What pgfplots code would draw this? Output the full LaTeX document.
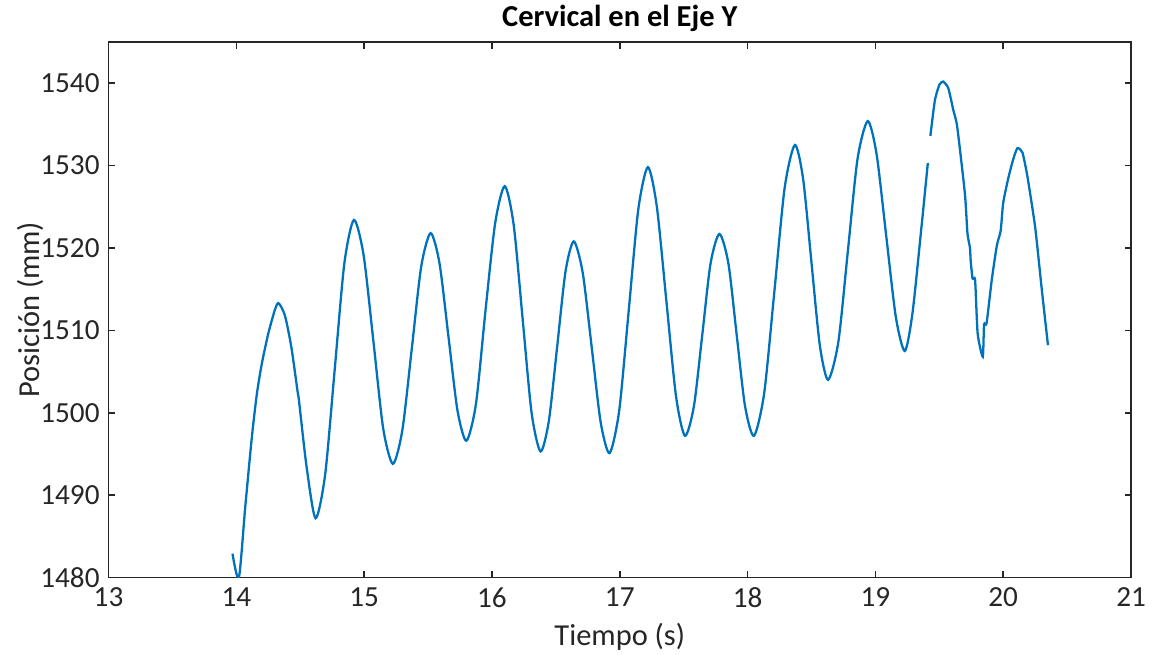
\documentclass[border=0pt]{standalone}
\usepackage{pgfplots}
\pgfplotsset{compat=1.18}
\usepackage{fontspec}
\setmainfont{Carlito}

\definecolor{matblue}{RGB}{0,114,189}
\definecolor{axgray}{RGB}{38,38,38}

\begin{document}
\begin{tikzpicture}
\begin{axis}[
  name=ax,
  scale only axis,
  width=14.164cm, height=7.418cm,
  xmin=13, xmax=21, ymin=1480, ymax=1545,
  xtick={13,...,21},
  ytick={1480,1490,...,1540},
  tick align=inside,
  major tick length=0.09cm,
  axis line style={axgray, line width=0.6pt},
  every tick/.style={axgray, line width=0.6pt},
  tick label style={font=\fontsize{11.5}{13}\selectfont, text=axgray},
  /pgf/number format/assume math mode=true,
  /pgf/number format/1000 sep={},
  xticklabel style={yshift=-0.02cm},
  xlabel={Tiempo (s)},
  ylabel={Posición (mm)},
  xlabel style={font=\fontsize{12}{14}\selectfont, text=axgray,
    at={(axis description cs:0.5,-0.11)}, anchor=center},
  ylabel style={font=\fontsize{12}{14}\selectfont, text=axgray,
    at={(axis description cs:-0.0767,0.5)}, anchor=center},
]
% First recorded segment
\addplot[matblue, line width=0.9pt, smooth, tension=0.45] coordinates {
(13.97,1482.9) (14.02,1480.0) (14.07,1488.6) (14.12,1496.8) (14.16,1502.2)
(14.20,1506.0) (14.25,1509.6)
(14.30,1512.4) (14.33,1513.3) (14.38,1511.8) (14.43,1508.0) (14.48,1502.5)
(14.49,1501.5) (14.55,1493.4) (14.62,1487.2) (14.695,1492.5) (14.77,1505.3)
(14.845,1518.1) (14.92,1523.4) (14.996,1519.1) (15.073,1508.6) (15.149,1498.1)
(15.225,1493.8) (15.299,1497.9) (15.373,1507.8) (15.446,1517.7) (15.52,1521.8)
(15.59,1518.1) (15.66,1509.2) (15.73,1500.3) (15.80,1496.6) (15.875,1501.1)
(15.95,1512.5) (16.025,1523.0) (16.10,1527.5) (16.17,1522.8) (16.24,1511.4)
(16.31,1500.0) (16.38,1495.3) (16.445,1499.0) (16.51,1508.0) (16.575,1517.1)
(16.64,1520.8) (16.71,1517.0) (16.78,1508.0) (16.85,1498.9) (16.92,1495.1)
(16.995,1500.2) (17.07,1512.4) (17.145,1524.7) (17.22,1529.8) (17.29,1525.0)
(17.365,1513.5) (17.44,1502.0) (17.51,1497.2) (17.58,1500.8) (17.645,1509.4)
(17.71,1518.1) (17.78,1521.7) (17.85,1518.1) (17.915,1509.4) (17.98,1500.8)
(18.05,1497.2) (18.13,1502.4) (18.21,1514.8) (18.29,1527.3) (18.37,1532.5)
(18.435,1528.3) (18.50,1518.2) (18.565,1508.2) (18.63,1504.0) (18.71,1508.6)
(18.785,1519.7) (18.86,1530.8) (18.94,1535.4) (19.01,1531.3) (19.085,1521.4)
(19.16,1511.6) (19.23,1507.5) (19.29,1512.1) (19.36,1522.5) (19.41,1530.3)
};
% Second segment after the dropout
\addplot[matblue, line width=0.9pt, smooth, tension=0.35] coordinates {
(19.43,1533.6) (19.465,1537.9) (19.50,1539.8) (19.53,1540.2) (19.57,1539.4)
(19.61,1536.7) (19.64,1534.7) (19.70,1526.6) (19.72,1521.8) (19.74,1520.0)
(19.745,1518.5) (19.76,1516.3) (19.78,1516.1) (19.80,1509.6) (19.84,1506.8)
(19.85,1510.7) (19.87,1510.9) (19.91,1516.1) (19.95,1520.3) (19.98,1522.1)
(20.00,1525.5) (20.04,1528.5) (20.075,1530.6) (20.11,1532.1) (20.15,1531.6)
(20.19,1528.6) (20.25,1522.5) (20.30,1515.2) (20.35,1508.2)
};
\end{axis}
\node[font=\fontsize{12}{14}\selectfont\bfseries, text=black, anchor=center]
  at ([yshift=0.33cm]ax.north) {Cervical en el Eje Y};
\pgfresetboundingbox
\path ([xshift=-1.503cm,yshift=-1.060cm]ax.south west)
  rectangle ([xshift=0.332cm,yshift=0.582cm]ax.north east);
\end{tikzpicture}
\end{document}
